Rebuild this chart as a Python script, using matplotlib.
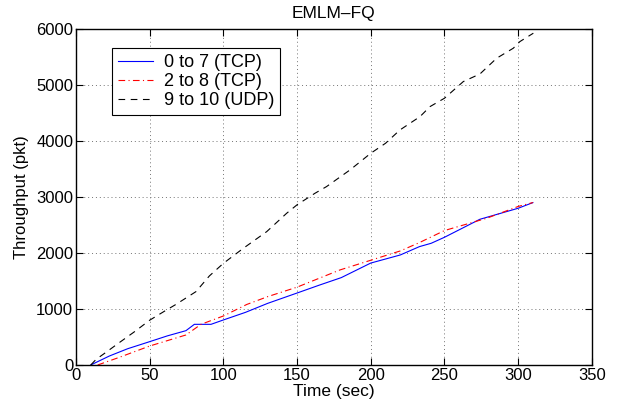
import matplotlib
matplotlib.use("Agg")
import matplotlib.pyplot as plt

# readings (time in sec, throughput in pkt)
t_tcp07 = [10, 22.6, 35, 50, 62, 74.6, 80.3, 91.6, 100, 115, 130, 150, 165, 180, 200,
           220, 233, 241, 250, 274, 300, 310]
v_tcp07 = [0, 160, 290, 417, 520, 613, 726, 726, 804, 940, 1100, 1285, 1425, 1560, 1820,
           1964, 2113, 2173, 2280, 2601, 2798, 2899]

t_tcp28 = [14.7, 29.4, 50, 74.6, 84.8, 100, 115.8, 130, 150, 179, 200, 220, 233, 250,
           278.6, 300, 310]
v_tcp28 = [0, 137, 339, 536, 726, 875, 1080, 1220, 1390, 1696, 1870, 2036, 2185, 2400,
           2619, 2830, 2900]

t_udp = [10, 13.6, 20, 29.4, 40, 50, 60, 67.9, 81.4, 90.5, 100, 113.5, 129.4, 142.9, 150,
         162.1, 170, 185.9, 200, 210, 219.8, 233.4, 240.2, 250, 262.8, 274.1, 285.4,
         296.7, 301.2, 310.3]
v_udp = [0, 100, 220, 400, 600, 800, 960, 1083, 1310, 1590, 1815, 2083, 2381, 2708, 2860,
         3065, 3185, 3482, 3780, 3958, 4196, 4434, 4613, 4762, 5060, 5196, 5476,
         5655, 5774, 5923]

labels = ["0 to 7 (TCP)", "2 to 8 (TCP)", "9 to 10 (UDP)"]
x_ticks = [0, 50, 100, 150, 200, 250, 300, 350]
y_ticks = [0, 1000, 2000, 3000, 4000, 5000, 6000]

plt.rcParams['font.family'] = ['Liberation Sans', 'DejaVu Sans']
plt.rcParams['font.size'] = 12

fig = plt.figure(figsize=(6.23, 4.03), dpi=100)
ax = fig.add_axes([0.122, 0.0943, 0.828, 0.834])

ax.plot(t_tcp07, v_tcp07, color='blue', lw=0.8, label=labels[0])
ax.plot(t_tcp28, v_tcp28, color='red', lw=0.8, linestyle=(0, (6, 3, 1, 3)), label=labels[1])
ax.plot(t_udp, v_udp, color='black', lw=0.8, linestyle=(0, (6, 5)), label=labels[2])

ax.set_xlim(0, 350)
ax.set_ylim(0, 6000)
ax.set_xticks(x_ticks)
ax.set_yticks(y_ticks)
ax.grid(True, color='0.45', linestyle=(0, (1, 3)), linewidth=0.7)
ax.tick_params(direction='in', length=5, top=True, right=True, labelsize=12, pad=2)
for s in ax.spines.values():
    s.set_linewidth(1.0)

ax.set_title("EMLM\u2013FQ", fontsize=12.5, pad=8)
ax.set_xlabel("Time (sec)", fontsize=12.5, labelpad=1)
ax.set_ylabel("Throughput (pkt)", fontsize=12, labelpad=5)

leg = ax.legend(loc='upper left', bbox_to_anchor=(0.07, 0.943), borderaxespad=0,
                fancybox=False, framealpha=1, edgecolor='black', handlelength=1.9,
                handletextpad=0.6, borderpad=0.35, labelspacing=0.1, fontsize=13)
leg.get_frame().set_linewidth(0.8)

fig.savefig("out.png", dpi=100)
